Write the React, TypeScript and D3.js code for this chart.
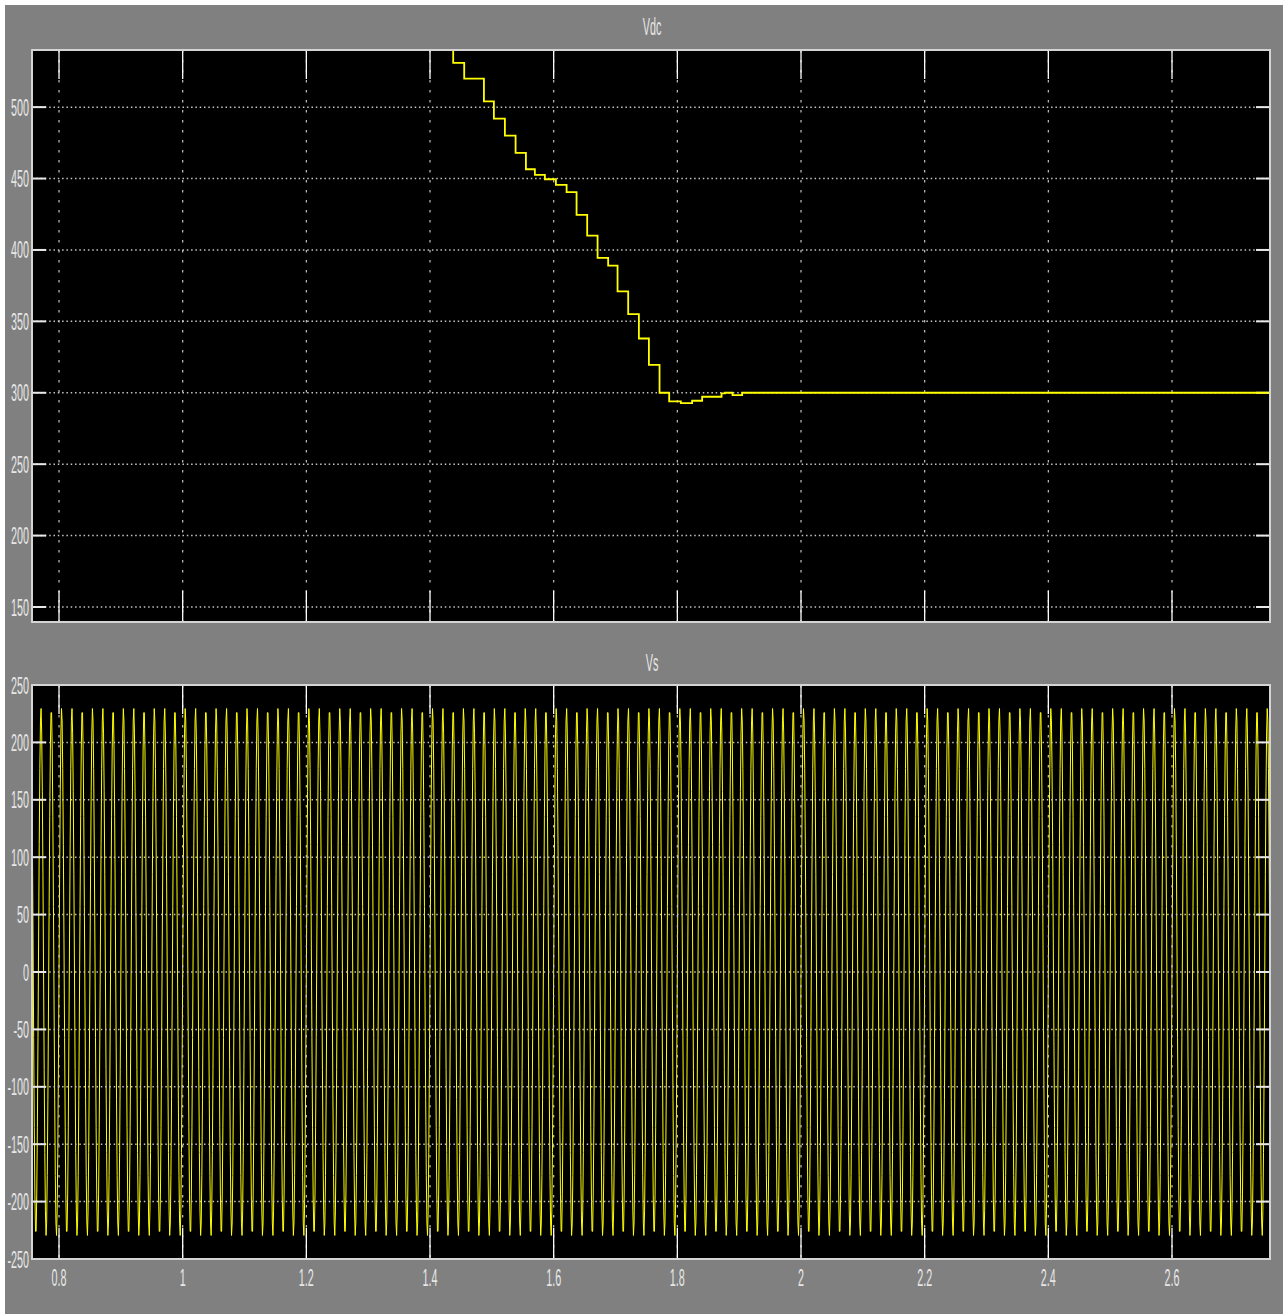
import { useEffect, useRef } from 'react'
import * as d3 from 'd3'

// Vdc step response (time in s, value in V)
const vdcTime = [0.7563, 1.4375, 1.4553, 1.4872, 1.5033, 1.5211, 1.5384, 1.5551, 1.5696, 1.5858, 1.6036, 1.6209, 1.637, 1.6542, 1.671, 1.6881, 1.7033, 1.7205, 1.7378, 1.754, 1.7712, 1.7868, 1.8057, 1.8239, 1.8401, 1.8715, 1.8769, 1.8892, 1.9048, 2.7585]
const vdcValue = [560, 531, 520, 504, 492, 480, 468, 456.5, 452.5, 449.5, 445.5, 440.5, 424.5, 410, 394.5, 389, 371, 355, 338, 319.5, 300, 294, 292.7, 294.4, 297.2, 299.6, 300, 298.4, 300, 300]

// Vs: 230 V peak, 60 Hz, sampled every 1 ms -> 50 samples repeat every 3 cycles
const vsStep = 0.001
const vsSamples = [
  0, 84.7, 157.4, 208.1, 229.5, 218.7, 177.2, 110.8, 28.8, -57.2,
  -135.2, -194.2, -225.9, -225.9, -194.2, -135.2, -57.2, 28.8, 110.8, 177.2,
  218.7, 229.5, 208.1, 157.4, 84.7, 0, -84.7, -157.4, -208.1, -229.5,
  -218.7, -177.2, -110.8, -28.8, 57.2, 135.2, 194.2, 225.9, 225.9, 194.2,
  135.2, 57.2, -28.8, -110.8, -177.2, -218.7, -229.5, -208.1, -157.4, -84.7,
]

const timeDomain = [0.7563, 2.7585]
const xTicks = [0.8, 1, 1.2, 1.4, 1.6, 1.8, 2, 2.2, 2.4, 2.6]
const vdcDomain = [139.5, 540]
const vdcTicks = [150, 200, 250, 300, 350, 400, 450, 500]
const vsDomain = [-250, 250]
const vsTicks = [-250, -200, -150, -100, -50, 0, 50, 100, 150, 200, 250]

const W = 1283
const H = 1314
const LEFT = 32
const RIGHT = 1270

export default function App() {
  const svgRef = useRef<SVGSVGElement>(null)

  useEffect(() => {
    if (!svgRef.current) return
    const svg = d3.select(svgRef.current)
    svg.selectAll('*').remove()

    const font = '"Liberation Sans", Arial, sans-serif'
    const textColor = '#e6e6e6'

    svg.append('rect').attr('x', 5).attr('y', 5).attr('width', W - 5).attr('height', H - 5).attr('fill', '#808080')

    const x = d3.scaleLinear().domain(timeDomain).range([LEFT, RIGHT])

    const label = (g: any, tx: number, ty: number, txt: string, anchor: string) => {
      g.append('text')
        .attr('transform', `translate(${tx},${ty}) scale(0.45,1)`)
        .attr('text-anchor', anchor)
        .attr('font-family', font)
        .attr('font-size', 24)
        .attr('fill', textColor)
        .text(txt)
    }

    const panel = (
      id: string, top: number, bottom: number, domain: number[], ticks: number[],
      title: string, titleY: number, drawData: (g: any, y: d3.ScaleLinear<number, number>) => void,
      showX: boolean, dataOnTop: boolean,
    ) => {
      const y = d3.scaleLinear().domain(domain).range([bottom, top])
      const g = svg.append('g')

      g.append('rect').attr('x', LEFT).attr('y', top).attr('width', RIGHT - LEFT).attr('height', bottom - top).attr('fill', '#000')

      svg.append('clipPath').attr('id', id)
        .append('rect').attr('x', LEFT).attr('y', top).attr('width', RIGHT - LEFT).attr('height', bottom - top)

      const under = g.append('g').attr('clip-path', `url(#${id})`)
      if (!dataOnTop) drawData(under, y)

      // dotted grid
      under.selectAll('line.hgrid').data(ticks).join('line')
        .attr('class', 'hgrid')
        .attr('x1', LEFT).attr('x2', RIGHT)
        .attr('y1', (d: number) => y(d)).attr('y2', (d: number) => y(d))
        .attr('stroke', '#c4c4c4').attr('stroke-width', 1.5).attr('stroke-dasharray', '1.5,2.8')
      under.selectAll('line.vgrid').data(xTicks).join('line')
        .attr('class', 'vgrid')
        .attr('x1', (d: number) => x(d)).attr('x2', (d: number) => x(d))
        .attr('y1', top).attr('y2', bottom)
        .attr('stroke', '#c4c4c4').attr('stroke-width', 1.2).attr('stroke-dasharray', '2.5,7.5')

      // tick marks
      xTicks.forEach((t) => {
        g.append('line').attr('x1', x(t)).attr('x2', x(t)).attr('y1', top).attr('y2', top + 29)
          .attr('stroke', '#fff').attr('stroke-width', 1.3)
        g.append('line').attr('x1', x(t)).attr('x2', x(t)).attr('y1', bottom).attr('y2', bottom - 31)
          .attr('stroke', '#fff').attr('stroke-width', 1.3)
      })
      ticks.forEach((v) => {
        g.append('line').attr('x1', LEFT).attr('x2', LEFT + 14).attr('y1', y(v)).attr('y2', y(v))
          .attr('stroke', '#e8e8e8').attr('stroke-width', 2)
        g.append('line').attr('x1', RIGHT).attr('x2', RIGHT - 14).attr('y1', y(v)).attr('y2', y(v))
          .attr('stroke', '#e8e8e8').attr('stroke-width', 2)
        label(g, 29, y(v) + 8.5, String(v), 'end')
      })

      if (dataOnTop) {
        const over = g.append('g').attr('clip-path', `url(#${id})`)
        drawData(over, y)
      }

      g.append('rect').attr('x', LEFT).attr('y', top).attr('width', RIGHT - LEFT).attr('height', bottom - top)
        .attr('fill', 'none').attr('stroke', '#d4d4d4').attr('stroke-width', 2)

      label(g, (LEFT + RIGHT) / 2 + 1, titleY, title, 'middle')

      if (showX) {
        xTicks.forEach((t) => label(g, x(t), bottom + 27, String(t), 'middle'))
      }
    }

    panel('clip-vdc', 50, 622, vdcDomain, vdcTicks, 'Vdc', 35, (g, y) => {
      const pts = vdcTime.map((t, i) => [t, vdcValue[i]] as [number, number])
      const line = d3.line<[number, number]>().x((d) => x(d[0])).y((d) => y(d[1])).curve(d3.curveStepAfter)
      g.append('path').attr('d', line(pts)).attr('fill', 'none').attr('stroke', '#ffff00').attr('stroke-width', 1.8)
    }, false, true)

    panel('clip-vs', 685, 1259, vsDomain, vsTicks, 'Vs', 671, (g, y) => {
      const k0 = Math.floor(timeDomain[0] / vsStep)
      const k1 = Math.ceil(timeDomain[1] / vsStep)
      const pts = d3.range(k0, k1 + 1).map((k) => [k * vsStep, vsSamples[k % vsSamples.length]] as [number, number])
      const line = d3.line<[number, number]>().x((d) => x(d[0])).y((d) => y(d[1]))
      g.append('path').attr('d', line(pts)).attr('fill', 'none').attr('stroke', '#ffff00').attr('stroke-width', 1)
    }, true, false)
  }, [])

  return (
    <svg
      ref={svgRef}
      width={W}
      height={H}
      style={{ position: 'absolute', left: 0, top: 0, display: 'block', background: '#fff' }}
    />
  )
}
